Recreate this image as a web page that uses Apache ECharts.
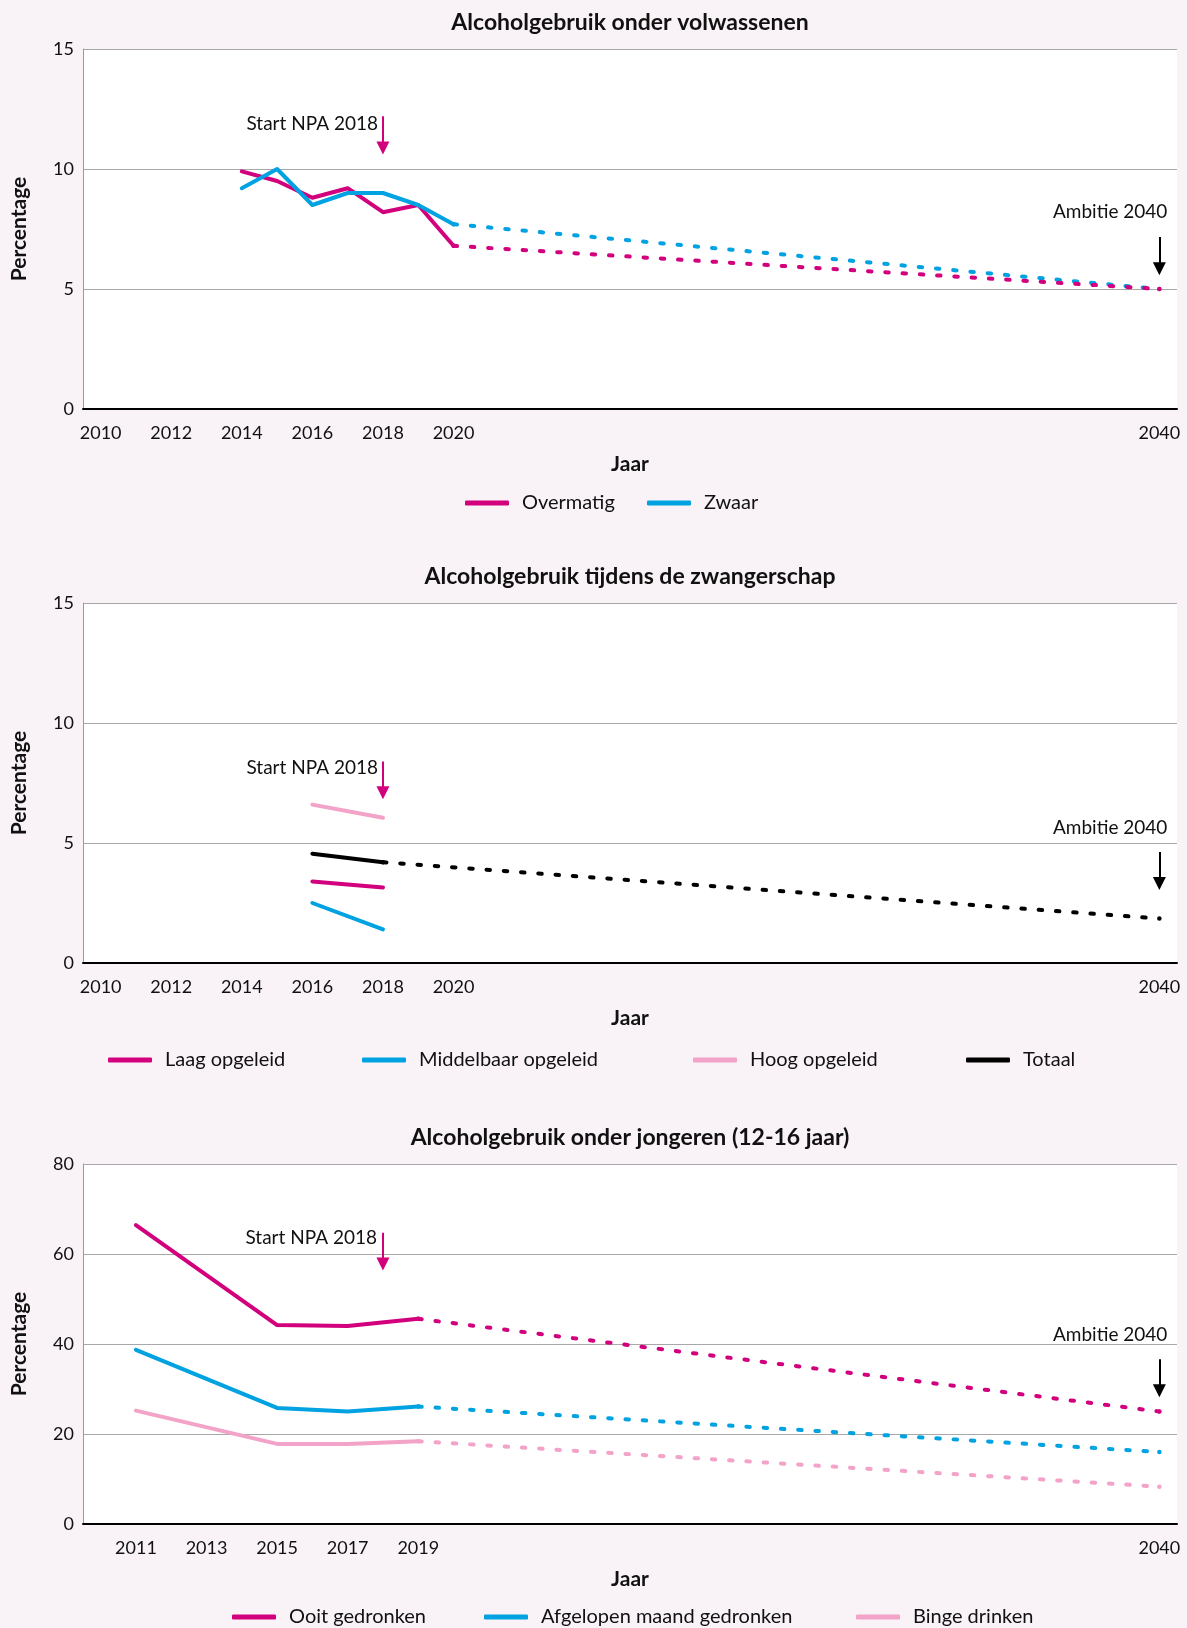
<!DOCTYPE html>
<html>
<head>
<meta charset="utf-8">
<title>Alcoholgebruik</title>
<script src="https://cdn.jsdelivr.net/npm/echarts@6/dist/echarts.min.js"></script>
<style>
  html, body { margin: 0; padding: 0; background: #f9f3f7; }
  #main { width: 1187px; height: 1628px; }
</style>
</head>
<body>
<div id="main"></div>
<script>
// volwassenen
var adultYears = [2014, 2015, 2016, 2017, 2018, 2019, 2020];
var overmatig = [9.9, 9.5, 8.8, 9.2, 8.2, 8.5, 6.8];
var zwaar = [9.2, 10.0, 8.5, 9.0, 9.0, 8.5, 7.7];
var adultProjYears = [2020, 2040];
var overmatigProj = [6.8, 5.0];
var zwaarProj = [7.7, 5.0];

// zwangerschap
var pregYears = [2016, 2018];
var laagOpgeleid = [3.4, 3.15];
var middelbaarOpgeleid = [2.5, 1.4];
var hoogOpgeleid = [6.6, 6.05];
var totaal = [4.55, 4.2];
var pregProjYears = [2018, 2040];
var totaalProj = [4.2, 1.85];

// jongeren
var youthYears = [2011, 2015, 2017, 2019];
var ooitGedronken = [66.4, 44.2, 44.0, 45.6];
var maandGedronken = [38.7, 25.8, 25.0, 26.1];
var bingeDrinken = [25.2, 17.8, 17.8, 18.4];
var youthProjYears = [2019, 2040];
var ooitProj = [45.6, 25.0];
var maandProj = [26.1, 16.0];
var bingeProj = [18.4, 8.3];

var yearTicks = [2010, 2012, 2014, 2016, 2018, 2020, 2040];
var youthYearTicks = [2011, 2013, 2015, 2017, 2019, 2040];

var MAGENTA = '#d2007d', BLUE = '#00a2e1', PINK = '#f2a3c7', BLACK = '#000000';
var FONT = 'Lato';
var TEXT = '#111111';

var chart = echarts.init(document.getElementById('main'));

function zip(xs, ys) {
  return xs.map(function (x, i) { return [x, ys[i]]; });
}

function solid(name, xs, ys, color, gi) {
  return {
    name: name, type: 'line', xAxisIndex: gi, yAxisIndex: gi,
    data: zip(xs, ys), symbol: 'none', z: 3,
    itemStyle: { color: color },
    lineStyle: { color: color, width: 4, cap: 'round', join: 'round' }
  };
}

// stippellijn, met een punt op het eindjaar
function dotted(name, xs, ys, color, gi) {
  return {
    name: name, type: 'line', xAxisIndex: gi, yAxisIndex: gi,
    data: zip(xs, ys), symbol: 'circle', symbolSize: 4.5, showAllSymbol: true, z: 2,
    itemStyle: { color: color, borderWidth: 0 },
    lineStyle: { color: color, width: 4, type: [3.5, 13.8], cap: 'round' }
  };
}

// pijlen en teksten
function notes(list) {
  return {
    markLine: {
      silent: true, animation: false,
      symbol: ['none', 'triangle'], symbolSize: 13,
      label: { show: false },
      lineStyle: { type: 'solid', width: 2 },
      data: list.map(function (n) {
        return [
          { coord: [n.x, n.top], lineStyle: { color: n.color, type: 'solid', width: 2 }, itemStyle: { color: n.color } },
          { coord: [n.x, n.end] }
        ];
      })
    },
    markPoint: {
      silent: true, animation: false,
      data: list.map(function (n) {
        return {
          coord: [n.x, n.textY], symbolSize: 0,
          itemStyle: { color: 'rgba(0,0,0,0)' },
          label: {
            show: true, position: 'left', distance: n.dist, offset: [n.off || 0, 0],
            formatter: n.text, color: TEXT, fontSize: 19, fontFamily: FONT
          }
        };
      })
    }
  };
}

var grids = [49, 603, 1164].map(function (t) {
  return { left: 83, width: 1094, top: t, height: 360, show: true, backgroundColor: '#ffffff', borderWidth: 0 };
});

function xAxis(gi, ticks) {
  return {
    type: 'value', gridIndex: gi, min: 2009.5, max: 2040.5,
    name: 'Jaar', nameLocation: 'middle', nameGap: 45,
    nameTextStyle: { fontSize: 21, fontWeight: 'bold', color: TEXT, fontFamily: FONT },
    axisLine: { show: true, onZero: false, lineStyle: { color: '#000', width: 2 } },
    axisTick: { show: false },
    splitLine: { show: false },
    axisLabel: {
      customValues: ticks, margin: 15, fontSize: 18, color: TEXT, fontFamily: FONT,
      formatter: function (v) { return String(v); }
    }
  };
}

function yAxis(gi, max, step) {
  return {
    type: 'value', gridIndex: gi, min: 0, max: max, interval: step,
    name: 'Percentage', nameLocation: 'middle', nameGap: 53, nameRotate: 90,
    nameTextStyle: { fontSize: 21, fontWeight: 'bold', color: TEXT, fontFamily: FONT },
    axisLine: { show: true, lineStyle: { color: '#9a9a9a', width: 1 } },
    axisTick: { show: false },
    splitLine: { show: true, lineStyle: { color: '#a8a8a8', width: 1.2 } },
    axisLabel: { margin: 9, fontSize: 18, color: TEXT, fontFamily: FONT }
  };
}

var titles = [
  ['Alcoholgebruik onder volwassenen', 10],
  ['Alcoholgebruik tijdens de zwangerschap', 564],
  ['Alcoholgebruik onder jongeren (12-16 jaar)', 1125]
].map(function (t) {
  return {
    text: t[0], left: 630, top: t[1], textAlign: 'center', padding: 0,
    textStyle: { fontSize: 23, fontWeight: 'bold', color: TEXT, fontFamily: FONT, lineHeight: 26 }
  };
});

var legendItems = [
  ['Overmatig', 465, 491], ['Zwaar', 647, 491],
  ['Laag opgeleid', 108, 1048], ['Middelbaar opgeleid', 362, 1048],
  ['Hoog opgeleid', 693, 1048], ['Totaal', 966, 1048],
  ['Ooit gedronken', 232, 1605], ['Afgelopen maand gedronken', 484, 1605], ['Binge drinken', 856, 1605]
];
var legends = legendItems.map(function (l) {
  return {
    data: [l[0]], left: l[1], top: l[2], padding: 0,
    icon: 'roundRect', itemWidth: 44, itemHeight: 5, selectedMode: false,
    textStyle: { fontSize: 20, color: TEXT, fontFamily: FONT, lineHeight: 24, padding: [0, 0, 0, 8] }
  };
});

var s1proj = dotted('Overmatig ambitie', adultProjYears, overmatigProj, MAGENTA, 0);
Object.assign(s1proj, notes([
  { x: 2018, top: 12.2, end: 10.87, color: MAGENTA, textY: 11.9, text: 'Start NPA 2018', dist: 5 },
  { x: 2040, top: 7.17, end: 5.84, color: BLACK, textY: 8.2, text: 'Ambitie 2040', dist: 0, off: 8 }
]));

var s2proj = dotted('Totaal ambitie', pregProjYears, totaalProj, BLACK, 1);
Object.assign(s2proj, notes([
  { x: 2018, top: 8.4, end: 7.09, color: MAGENTA, textY: 8.14, text: 'Start NPA 2018', dist: 5 },
  { x: 2040, top: 4.62, end: 3.31, color: BLACK, textY: 5.64, text: 'Ambitie 2040', dist: 0, off: 8 }
]));

var s3proj = dotted('Ooit gedronken ambitie', youthProjYears, ooitProj, MAGENTA, 2);
Object.assign(s3proj, notes([
  { x: 2018, top: 64.7, end: 57.8, color: MAGENTA, textY: 63.5, text: 'Start NPA 2018', dist: 6 },
  { x: 2040, top: 36.6, end: 29.6, color: BLACK, textY: 42, text: 'Ambitie 2040', dist: 0, off: 8 }
]));

var option = {
  backgroundColor: '#f9f3f7',
  animation: false,
  title: titles,
  legend: legends,
  grid: grids,
  xAxis: [xAxis(0, yearTicks), xAxis(1, yearTicks), xAxis(2, youthYearTicks)],
  yAxis: [yAxis(0, 15, 5), yAxis(1, 15, 5), yAxis(2, 80, 20)],
  series: [
    solid('Overmatig', adultYears, overmatig, MAGENTA, 0),
    solid('Zwaar', adultYears, zwaar, BLUE, 0),
    dotted('Zwaar ambitie', adultProjYears, zwaarProj, BLUE, 0),
    s1proj,

    solid('Laag opgeleid', pregYears, laagOpgeleid, MAGENTA, 1),
    solid('Middelbaar opgeleid', pregYears, middelbaarOpgeleid, BLUE, 1),
    solid('Hoog opgeleid', pregYears, hoogOpgeleid, PINK, 1),
    solid('Totaal', pregYears, totaal, BLACK, 1),
    s2proj,

    solid('Ooit gedronken', youthYears, ooitGedronken, MAGENTA, 2),
    solid('Afgelopen maand gedronken', youthYears, maandGedronken, BLUE, 2),
    solid('Binge drinken', youthYears, bingeDrinken, PINK, 2),
    s3proj,
    dotted('Afgelopen maand ambitie', youthProjYears, maandProj, BLUE, 2),
    dotted('Binge drinken ambitie', youthProjYears, bingeProj, PINK, 2)
  ]
};

chart.setOption(option);
</script>
</body>
</html>
